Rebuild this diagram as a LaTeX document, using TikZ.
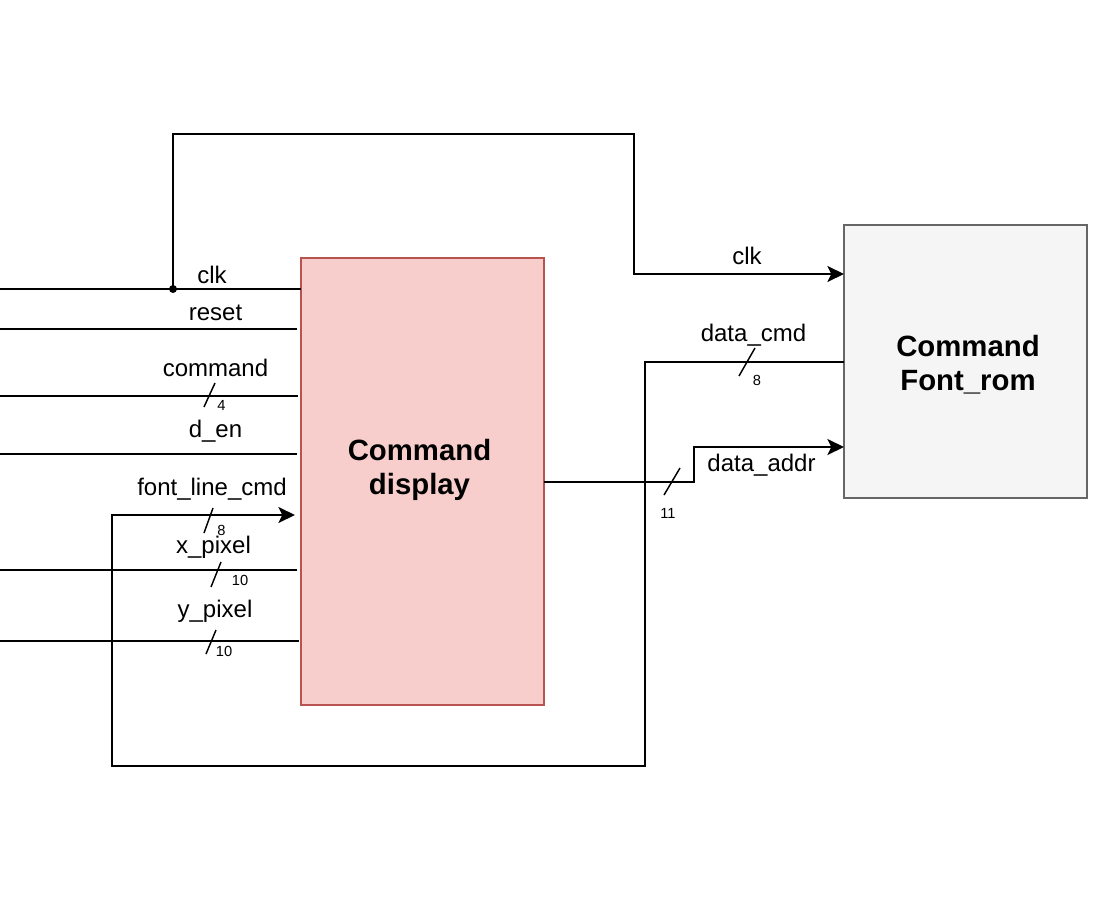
\documentclass[tikz,border=0pt]{standalone}
\usepackage{fontspec}
\setmainfont{Liberation Sans}
\usetikzlibrary{arrows.meta}
\definecolor{pinkfill}{HTML}{F8CECC}
\definecolor{pinkdraw}{HTML}{B85450}
\definecolor{grayfill}{HTML}{F5F5F5}
\definecolor{graydraw}{HTML}{666666}
\begin{document}
\begin{tikzpicture}[x=0.75pt,y=-0.75pt,
  wire/.style={line width=1.5pt, draw=black},
  sig/.style={wire, -{Stealth[length=12.5pt,width=12pt,inset=3pt]}},
  busmark/.style={line width=1.1pt, draw=black},
  lbl/.style={font=\fontsize{18}{20}\selectfont, inner sep=0pt},
  num/.style={font=\fontsize{11}{12}\selectfont, inner sep=0pt},
  ttl/.style={font=\fontsize{22}{24}\selectfont\bfseries, inner sep=0pt, anchor=base},
  blockbox/.style={line width=1.5pt, inner sep=0pt, outer sep=0pt}
]
\useasboundingbox (0,0) rectangle (1107,903);

% blocks
\node[blockbox, draw=pinkdraw, fill=pinkfill, minimum width=182.25pt, minimum height=335.25pt] (cd) at (422.5,481.5) {};
\node[blockbox, draw=graydraw, fill=grayfill, minimum width=182.25pt, minimum height=204.75pt] (fr) at (965.5,361.5) {};
\node[ttl] (cdt1) at (419.5,460.7) {Command};
\node[ttl] (cdt2) at (419.5,494) {display};
\node[ttl] (frt1) at (968,356) {Command};
\node[ttl] (frt2) at (968,390.7) {Font\_rom};

% clk input and clk to font rom
\coordinate (inclk) at (0,289);
\coordinate (j) at (173,289);
\coordinate (top) at (634,134);
\coordinate (clkturn) at (634,274);
\draw[wire] (inclk) -- (inclk -| cd.west);
\fill (j) circle (3pt);
\draw[sig] (j) |- (top) -- (clkturn) -- (clkturn -| fr.west);

% reset
\coordinate (inrst) at (0,329);
\draw[wire, shorten >=3pt] (inrst) -- (inrst -| cd.west);

% command
\coordinate (incmd) at (0,395.5);
\draw[wire, shorten >=2.5pt] (incmd) -- (incmd -| cd.west);
\draw[busmark] (209.5,395) ++(-5.5,12) -- ++(11,-24);

% d_en
\coordinate (inden) at (0,454);
\draw[wire, shorten >=3pt] (inden) -- (inden -| cd.west);

% x_pixel
\coordinate (inxp) at (0,570);
\draw[wire, shorten >=3pt] (inxp) -- (inxp -| cd.west);
\draw[busmark] (216,574.5) ++(-5,12.5) -- ++(10,-25);

% y_pixel
\coordinate (inyp) at (0,640.5);
\draw[wire, shorten >=1.5pt] (inyp) -- (inyp -| cd.west);
\draw[busmark] (211,642) ++(-5,12) -- ++(10,-24);

% data_cmd loop back to font_line_cmd
\coordinate (dc1) at (645,362);
\coordinate (dc2) at (112,766);
\coordinate (flc) at (112,515);
\draw[sig, shorten >=4.5pt] (dc1 -| fr.west) -- (dc1) |- (dc2) -- (flc) -- (flc -| cd.west);
\draw[busmark] (747,362) ++(-8,14) -- ++(16,-28);
\draw[busmark] (208.5,520.5) ++(-4.5,12.5) -- ++(9,-25);

% data_addr
\coordinate (ab) at (694,447);
\draw[sig] (cd.east) -| (ab) -- (ab -| fr.west);
\draw[busmark] (672,481.5) ++(-8,13.5) -- ++(16,-27);

% labels
\node[lbl] (lclk) at (212,274.5) {clk};
\node[lbl] (lrst) at (215.5,313) {reset};
\node[lbl] (lcmd) at (215.5,367.5) {command};
\node[lbl] (lden) at (215.5,431) {d\_en};
\node[lbl] (lflc) at (212,489.5) {font\_line\_cmd};
\node[lbl] (lxp) at (213.5,547.5) {x\_pixel};
\node[lbl] (lyp) at (215,611) {y\_pixel};
\node[num] (n4) at (221.5,405) {4};
\node[num] (n8a) at (221.5,530.5) {8};
\node[num] (n10a) at (240,580) {10};
\node[num] (n10b) at (224,651.5) {10};
\node[lbl] (lclk2) at (747,256) {clk};
\node[lbl] (ldc) at (753.5,335) {data\_cmd};
\node[num] (n8b) at (757,380) {8};
\node[lbl] (lda) at (761.5,465) {data\_addr};
\node[num] (n11) at (668,513) {11};
\end{tikzpicture}
\end{document}
